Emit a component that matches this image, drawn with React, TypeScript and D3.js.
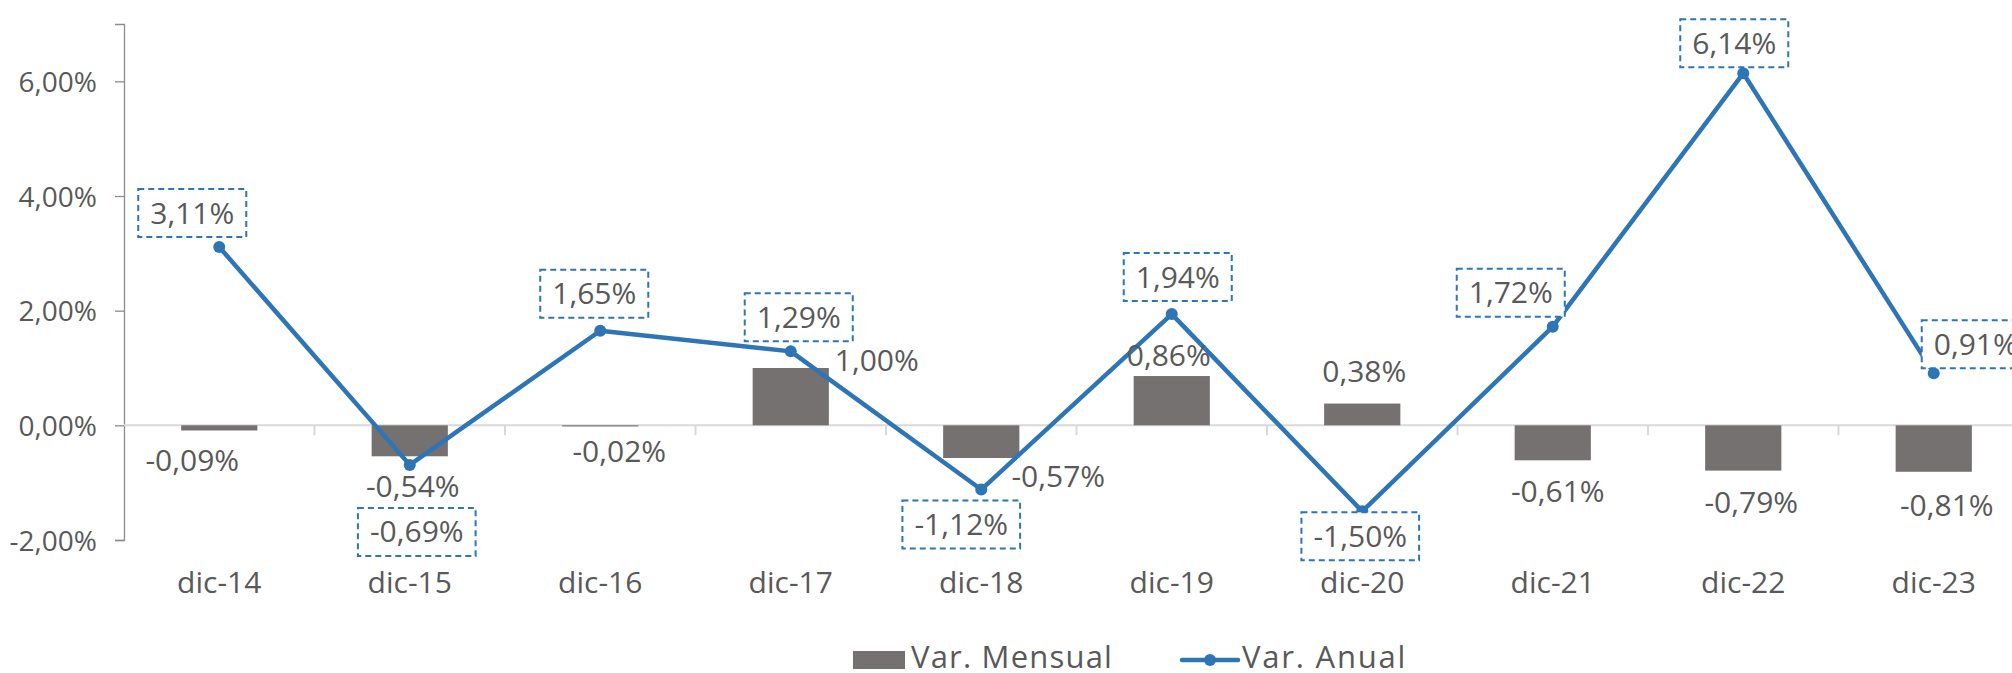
import React, { useEffect, useRef } from 'react';
import * as d3 from 'd3';

const categories = ['dic-14', 'dic-15', 'dic-16', 'dic-17', 'dic-18', 'dic-19', 'dic-20', 'dic-21', 'dic-22', 'dic-23'];
const varMensual = [-0.09, -0.54, -0.02, 1.0, -0.57, 0.86, 0.38, -0.61, -0.79, -0.81];
const varAnual = [3.11, -0.69, 1.65, 1.29, -1.12, 1.94, -1.5, 1.72, 6.14, 0.91];
const yTicks = [-2, 0, 2, 4, 6];
const seriesNames = ['Var. Mensual', 'Var. Anual'];

// hand-placed label nudges (px), like the moved labels in the original
const barLabelNudge = [[-27, 30], [3, 30], [19, 25], [86, -8], [77, 18], [-3, -21], [2, -32], [5, 31], [8, 32], [13, 34]];
const lineLabelNudge = [[-27, -34], [7, 67], [-6, -37], [8, -34], [-20, 35], [6, -37], [-2, 25], [-42, -34], [-9, -30], [42, -29]];

const W = 2012;
const H = 673;
const FONT = '"Open Sans", "DejaVu Sans", sans-serif';
const TEXT = '#595959';
const BAR = '#767171';
const LINE = '#2E75B6';

const StackedChart = () => {
  const svgRef = useRef<SVGSVGElement>(null);

  useEffect(() => {
    document.body.style.margin = '0';
    const svg = d3.select(svgRef.current);
    svg.selectAll('*').remove();

    const loc = d3.formatLocale({ decimal: ',', thousands: '.', grouping: [3], currency: ['', '€'], minus: '-' });
    const pct = (v: number) => loc.format('.2f')(v) + '%';

    const left = 124;
    const x = d3
      .scaleBand()
      .domain(categories)
      .range([left, left + 190.5 * categories.length])
      .paddingInner(0.6)
      .paddingOuter(0.3);
    const step = x.step();
    const cx = (c: string) => (x(c) as number) + x.bandwidth() / 2;

    const y = d3.scaleLinear().domain([-2, 7]).range([540, 24]);

    // y axis
    const yAxis = svg
      .append('g')
      .attr('transform', `translate(${left},0)`)
      .call(d3.axisLeft(y).tickValues(yTicks).tickSize(9).tickPadding(18).tickFormat((d: any) => pct(d)));
    yAxis.select('.domain').attr('stroke', '#8c8c8c').attr('stroke-width', 1.3);
    yAxis.selectAll('.tick line').attr('stroke', '#8c8c8c').attr('stroke-width', 1.3);
    yAxis
      .selectAll('.tick text')
      .attr('font-family', FONT)
      .attr('font-size', 28)
      .attr('fill', TEXT)
      .attr('dy', '0.36em');

    // x axis on zero line
    const x0 = y(0);
    svg
      .append('line')
      .attr('x1', left)
      .attr('x2', W)
      .attr('y1', x0)
      .attr('y2', x0)
      .attr('stroke', '#d9d9d9')
      .attr('stroke-width', 2);
    svg
      .append('g')
      .selectAll('line')
      .data(categories.slice(1))
      .join('line')
      .attr('x1', (d) => (x(d) as number) - step * 0.3)
      .attr('x2', (d) => (x(d) as number) - step * 0.3)
      .attr('y1', x0)
      .attr('y2', x0 + 10)
      .attr('stroke', '#d9d9d9')
      .attr('stroke-width', 2);

    svg
      .append('g')
      .selectAll('text')
      .data(categories)
      .join('text')
      .attr('x', (d) => cx(d))
      .attr('y', 593)
      .attr('text-anchor', 'middle')
      .attr('font-family', FONT)
      .attr('font-size', 30)
      .attr('fill', TEXT)
      .text((d) => d);

    // bars
    svg
      .append('g')
      .selectAll('rect')
      .data(varMensual)
      .join('rect')
      .attr('x', (_, i) => x(categories[i]) as number)
      .attr('width', x.bandwidth())
      .attr('y', (d) => y(Math.max(0, d)))
      .attr('height', (d) => Math.abs(y(d) - y(0)))
      .attr('fill', BAR);

    // line + markers
    const line = d3
      .line<number>()
      .x((_, i) => cx(categories[i]))
      .y((d) => y(d));
    svg
      .append('path')
      .datum(varAnual)
      .attr('d', line)
      .attr('fill', 'none')
      .attr('stroke', LINE)
      .attr('stroke-width', 4.5)
      .attr('stroke-linejoin', 'round');
    svg
      .append('g')
      .selectAll('circle')
      .data(varAnual)
      .join('circle')
      .attr('cx', (_, i) => cx(categories[i]))
      .attr('cy', (d) => y(d))
      .attr('r', 6)
      .attr('fill', LINE);

    // bar labels
    svg
      .append('g')
      .selectAll('text')
      .data(varMensual)
      .join('text')
      .attr('x', (_, i) => cx(categories[i]) + barLabelNudge[i][0])
      .attr('y', (d, i) => y(d) + barLabelNudge[i][1] + 10.5)
      .attr('text-anchor', 'middle')
      .attr('font-family', FONT)
      .attr('font-size', 30)
      .attr('fill', TEXT)
      .text((d) => pct(d));

    // line labels with dashed boxes
    const lbl = svg
      .append('g')
      .selectAll('g')
      .data(varAnual)
      .join('g')
      .attr(
        'transform',
        (d, i) => `translate(${cx(categories[i]) + lineLabelNudge[i][0]},${y(d) + lineLabelNudge[i][1]})`
      );
    const rects = lbl
      .append('rect')
      .attr('fill', 'white')
      .attr('stroke', LINE)
      .attr('stroke-width', 2)
      .attr('stroke-dasharray', '6 4');
    const txt = lbl
      .append('text')
      .attr('text-anchor', 'middle')
      .attr('y', 10.5)
      .attr('font-family', FONT)
      .attr('font-size', 30)
      .attr('fill', TEXT)
      .text((d) => pct(d));
    txt.each(function (_, i) {
      const w = (this as SVGTextElement).getComputedTextLength() + 24;
      d3.select(rects.nodes()[i])
        .attr('x', -w / 2)
        .attr('y', -24)
        .attr('width', w)
        .attr('height', 48);
    });

    // legend
    const lg = svg.append('g');
    lg.append('rect').attr('x', 853).attr('y', 651).attr('width', 52).attr('height', 18).attr('fill', BAR);
    lg.append('text')
      .attr('x', 911)
      .attr('y', 668)
      .attr('font-family', FONT)
      .attr('font-size', 31)
      .attr('letter-spacing', 1.2)
      .attr('fill', TEXT)
      .text(seriesNames[0]);
    lg.append('line')
      .attr('x1', 1182)
      .attr('x2', 1238)
      .attr('y1', 660)
      .attr('y2', 660)
      .attr('stroke', LINE)
      .attr('stroke-width', 4.5)
      .attr('stroke-linecap', 'round');
    lg.append('circle').attr('cx', 1210).attr('cy', 660).attr('r', 6).attr('fill', LINE);
    lg.append('text')
      .attr('x', 1242)
      .attr('y', 668)
      .attr('font-family', FONT)
      .attr('font-size', 31)
      .attr('letter-spacing', 1.8)
      .attr('fill', TEXT)
      .text(seriesNames[1]);
  }, []);

  return <svg ref={svgRef} width={W} height={H} style={{ display: 'block', background: 'white' }}></svg>;
};

export default function App() {
  return <StackedChart />;
}
